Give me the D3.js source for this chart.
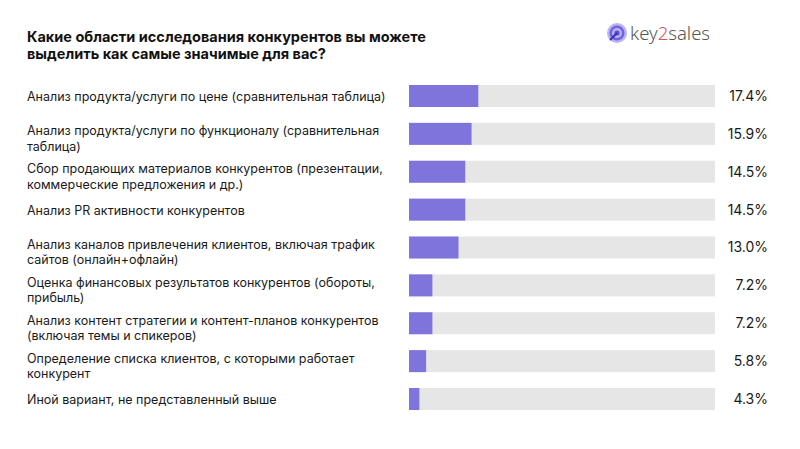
<!DOCTYPE html>
<html><head><meta charset="utf-8">
<script src="https://cdn.jsdelivr.net/npm/d3@7"></script>
<style>html,body{margin:0;padding:0;background:#fff;}svg{display:block;}</style>
</head><body>
<svg id="chart" width="800" height="449"></svg>
<script>
const titleLines = ["Какие области исследования конкурентов вы можете", "выделить как самые значимые для вас?"];
const categories = [
  ["Анализ продукта/услуги по цене (сравнительная таблица)"],
  ["Анализ продукта/услуги по функционалу (сравнительная", "таблица)"],
  ["Сбор продающих материалов конкурентов (презентации,", "коммерческие предложения и др.)"],
  ["Анализ PR активности конкурентов"],
  ["Анализ каналов привлечения клиентов, включая трафик", "сайтов (онлайн+офлайн)"],
  ["Оценка финансовых результатов конкурентов (обороты,", "прибыль)"],
  ["Анализ контент стратегии и контент-планов конкурентов", "(включая темы и спикеров)"],
  ["Определение списка клиентов, с которыми работает", "конкурент"],
  ["Иной вариант, не представленный выше"]
];
const values = [17.4, 15.9, 14.5, 14.5, 13.0, 7.2, 7.2, 5.8, 4.3];
const valueLabels = ["17.4%", "15.9%", "14.5%", "14.5%", "13.0%", "7.2%", "7.2%", "5.8%", "4.3%"];

const svg = d3.select("#chart");
const font = "Inter, 'Noto Sans', sans-serif";

// title
svg.append("g").selectAll("text").data(titleLines).join("text")
  .attr("x", 27).attr("y", (d, i) => 42 + i * 16.8)
  .attr("font-family", font).attr("font-weight", 700).attr("font-size", 14.5)
  .attr("fill", "#111").text(d => d);

// logo
const logo = svg.append("g").attr("transform", "translate(617,33)");
logo.append("circle").attr("r", 10).attr("fill", "#b9b3f2");
logo.append("circle").attr("r", 7.5).attr("fill", "#6f63e0");
logo.append("circle").attr("r", 5).attr("fill", "#b9b3f2");
logo.append("circle").attr("r", 2.6).attr("fill", "#5a4fd6");
logo.append("line").attr("x1", 0).attr("y1", 0).attr("x2", -7).attr("y2", 7)
  .attr("stroke", "#3b2fb0").attr("stroke-width", 2);
const lt = svg.append("text").attr("x", 630).attr("y", 40)
  .attr("font-family", "'Noto Sans', sans-serif").attr("font-weight", 300).attr("font-size", 18.5).attr("fill", "#555");
lt.append("tspan").text("key");
lt.append("tspan").attr("fill", "#e0524f").text("2");
lt.append("tspan").text("sales");

const idx = d3.range(values.length);
const y = d3.scalePoint().domain(idx).range([96, 399]);
const x = d3.scaleLinear().domain([2, 70]).range([409, 715]);
const barH = 22;

const rows = svg.append("g").selectAll("g").data(idx).join("g");
rows.append("rect").attr("x", x(2)).attr("y", i => y(i) - barH / 2)
  .attr("width", x(70) - x(2)).attr("height", barH).attr("fill", "#e6e6e6");
rows.append("rect").attr("x", x(2)).attr("y", i => y(i) - barH / 2)
  .attr("width", i => x(values[i]) - x(2)).attr("height", barH).attr("fill", "#7f74dc");
rows.append("text").attr("x", 768).attr("y", i => y(i)).attr("dy", "0.35em")
  .attr("text-anchor", "end").attr("font-family", font).attr("font-size", 14)
  .attr("fill", "#1a1a1a").text(i => valueLabels[i]);
rows.each(function(i) {
  const t = d3.select(this).append("text").attr("font-family", font).attr("font-size", 12.5).attr("fill", "#1a1a1a");
  const lines = categories[i];
  t.selectAll("tspan").data(lines).join("tspan")
    .attr("x", 27).attr("y", (d, k) => y(i) + (lines.length > 1 ? -3 : 1) + k * 15.5)
    .attr("dy", "0.35em").text(d => d);
});
</script>
</body></html>
